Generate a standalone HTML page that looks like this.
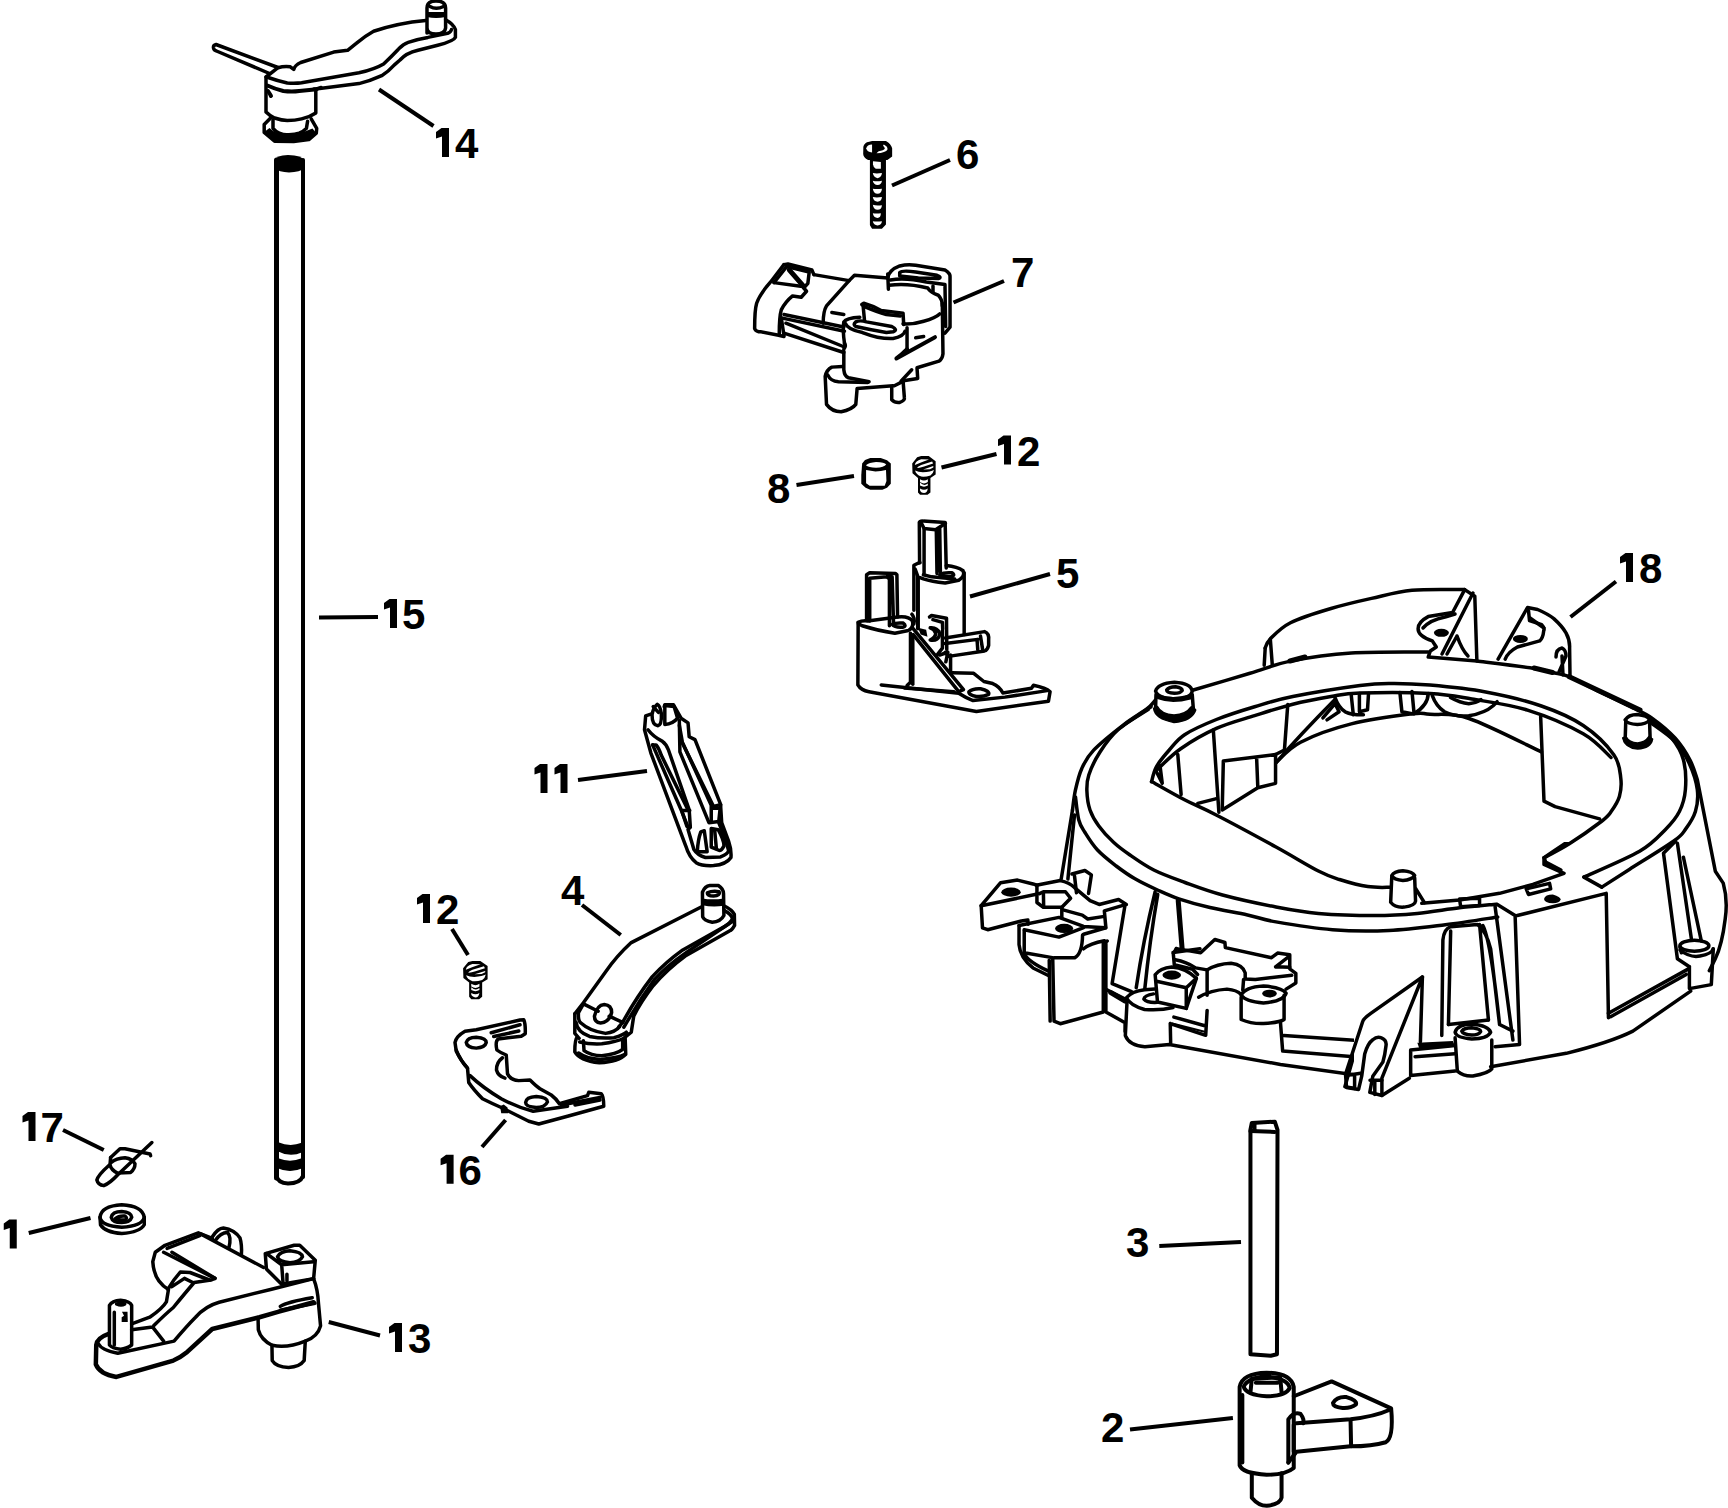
<!DOCTYPE html>
<html><head><meta charset="utf-8"><title>Parts diagram</title>
<style>html,body{margin:0;padding:0;background:#fff;overflow:hidden}svg{display:block}</style></head>
<body>
<svg width="1728" height="1508" viewBox="0 0 1728 1508">
<rect width="1728" height="1508" fill="#fff"/>
<g fill="none" stroke="#000" stroke-width="3.5" stroke-linejoin="round" stroke-linecap="round">
<g font-family="Liberation Sans" font-weight="bold" font-size="42" fill="#000" stroke="none">
<path transform="translate(19.00,-766.00)" d="M417 898 L422.5 894 L430 894 L430 923 L423 923 L423 902.5 L417 904.5 Z"/>
<text x="455.00" y="158.00">4</text>
<path transform="translate(-33.00,-295.00)" d="M417 898 L422.5 894 L430 894 L430 923 L423 923 L423 902.5 L417 904.5 Z"/>
<text x="402.00" y="629.00">5</text>
<text x="956.00" y="168.50">6</text>
<text x="1011.00" y="286.50">7</text>
<path transform="translate(581.00,-458.50)" d="M417 898 L422.5 894 L430 894 L430 923 L423 923 L423 902.5 L417 904.5 Z"/>
<text x="1017.00" y="465.50">2</text>
<text x="767.00" y="503.00">8</text>
<text x="1056.00" y="587.50">5</text>
<path transform="translate(1203.00,-341.00)" d="M417 898 L422.5 894 L430 894 L430 923 L423 923 L423 902.5 L417 904.5 Z"/>
<text x="1639.00" y="583.00">8</text>
<path transform="translate(117.50,-130.00)" d="M417 898 L422.5 894 L430 894 L430 923 L423 923 L423 902.5 L417 904.5 Z"/>
<path transform="translate(137.50,-130.00)" d="M417 898 L422.5 894 L430 894 L430 923 L423 923 L423 902.5 L417 904.5 Z"/>
<text x="561.00" y="905.00">4</text>
<path transform="translate(0.00,0.00)" d="M417 898 L422.5 894 L430 894 L430 923 L423 923 L423 902.5 L417 904.5 Z"/>
<text x="436.00" y="924.00">2</text>
<path transform="translate(23.60,260.75)" d="M417 898 L422.5 894 L430 894 L430 923 L423 923 L423 902.5 L417 904.5 Z"/>
<text x="458.60" y="1184.75">6</text>
<path transform="translate(-394.50,218.00)" d="M417 898 L422.5 894 L430 894 L430 923 L423 923 L423 902.5 L417 904.5 Z"/>
<text x="40.50" y="1142.00">7</text>
<path transform="translate(-413.25,325.50)" d="M417 898 L422.5 894 L430 894 L430 923 L423 923 L423 902.5 L417 904.5 Z"/>
<path transform="translate(-28.00,429.00)" d="M417 898 L422.5 894 L430 894 L430 923 L423 923 L423 902.5 L417 904.5 Z"/>
<text x="408.00" y="1353.00">3</text>
<text x="1126.00" y="1257.00">3</text>
<text x="1101.00" y="1442.00">2</text>
</g>
<g stroke-width="4" stroke-linecap="butt">
<path d="M379 89.5 L433.5 126"/>
<path d="M319 617.5 L378 617"/>
<path d="M892 185.5 L950 160"/>
<path d="M953.5 302.5 L1004 281"/>
<path d="M941.5 467.5 L996.5 454"/>
<path d="M796.5 485 L854 476"/>
<path d="M970 596.5 L1050 574"/>
<path d="M1570.5 617 L1616 581.5"/>
<path d="M578 780 L647 771"/>
<path d="M582 905 L620.75 935"/>
<path d="M452 929 L468 955"/>
<path d="M482 1147 L505.6 1120"/>
<path d="M63 1130 L103.75 1150"/>
<path d="M28.75 1233 L90.5 1218"/>
<path d="M328.75 1322 L380 1335.5"/>
<path d="M1159.3 1246 L1241 1242"/>
<path d="M1130 1429.5 L1232.9 1418"/>
</g>
<!-- rod 15 -->
<path d="M276.5 160 V1178" stroke-width="5"/>
<path d="M303 160 V1177" stroke-width="4"/>
<path d="M274 161 Q276 155 288 155 Q302 155 305 161 V168 Q300 172 289 172.5 Q279 172 274 168 Z" fill="#000" stroke="none"/>
<path d="M278 1143 Q290 1148 302 1143.5 V1151.5 Q290 1157 278 1150.5 Z" fill="#000" stroke-width="1.5"/>
<path d="M278 1159 Q290 1164 302 1159 V1167.5 Q290 1173 278 1167.5 Z" fill="#000" stroke-width="1.5"/>
<path d="M276.5 1176 Q278 1183 288 1183.5 Q300 1183.5 303 1176" stroke-width="4"/>
<!-- lever 14 -->
<path d="M278 67.5 L216 44.5 Q213 45 213.5 48 Q214 50.5 216.5 51 L269.5 73.5"/>
<path d="M266 77 L278 67.7 Q284 66 290.3 66.8 L293.75 69.4 Q295 65 300.7 62.5 L333.7 52.1 L347.6 50.3 L356.25 43.4 Q365 36 373.6 31.25 Q398 23 425.7 20.5"/>
<path d="M445.6 19.7 Q453.5 24 455.4 29.5 V37.4 Q454 41 437.7 45.3 L418 50.2 Q406 53 400 60 L394.4 64.9 Q388 72 381.7 75.7 Q370 81 359 83.6 L319.7 88.5 L314 89"/>
<path d="M268.2 77.5 Q278 81 287.3 83 Q296 83.5 301.6 82.7 L359 72.8 Q375 69 383.6 63.9 Q392 56 398.4 49.2 Q403 44 408.2 42.3 Q418 39 427.9 37.4 L447.6 33.4 Q451 32 451.5 29.5"/>
<path d="M267.4 85.5 Q275 89 283.3 91 Q292 92 299.2 91 L314.4 89.4" stroke-width="4"/>
<!-- pin on 14 -->
<path d="M427 33 V8 Q427 1 436 1 Q445.6 1 445.6 8 V28 Q445 34 436 34 Q427 34 427 28"/>
<path d="M430 6.5 Q436 10 443.6 6.5"/>
<path d="M427 12 H445.6 V17 Q436 19 427 17 Z" fill="#000" stroke="none"/>
<!-- head cylinder -->
<path d="M266 77 V112 Q270 116 274.6 118 Q282 120.5 287.3 120.5 Q295 120.5 301.6 118.9 Q310 117 315.8 113 V90"/>
<path d="M315.8 90 Q318 88 321 87.5"/>
<path d="M268 91 Q270 94 271 96" stroke-width="4"/>
<!-- washer -->
<path d="M270.6 118 L264.2 124.5 V132.4 L274.6 141.2 L293.7 141.6 L308.8 139.6 L316.3 133.2 L316.7 128.4 L311.2 118.9"/>
<path d="M273 119.7 V128.4 Q276 132 279.3 133.2 Q284 135 287.3 134.8 Q295 135 299.2 133.2 Q304 131 306.4 128.4 L307.6 121.3"/>
<path d="M268 134 Q278 139 290 139 Q305 139 313 133" stroke-width="4"/>
<path d="M264.2 132 L274.6 141.2 L293.7 141.6 L308.8 139.6 L316.3 133.2 L312.5 128.5 Q305 131.5 299 133.5 Q290 135.8 282 134.8 Q274 132.5 269.5 128 Z" fill="#000" stroke="none"/>
<g transform="translate(740,250) scale(0.13310)">
<g vector-effect="non-scaling-stroke">
<path vector-effect="non-scaling-stroke" d="M330 110 L230 240 Q150 330 125 400 Q110 450 110 590 Q120 615 160 615 L290 640 L330 650"/>
<path vector-effect="non-scaling-stroke" d="M330 110 L360 105 L540 150 L555 185"/>
<path vector-effect="non-scaling-stroke" d="M255 245 L350 125 L520 165 L510 250 L480 285"/>
<path vector-effect="non-scaling-stroke" d="M370 150 L475 270" stroke-width="5"/>
<path vector-effect="non-scaling-stroke" d="M255 245 L470 275 L500 310 L460 355 L395 345 Q340 390 310 450 Q295 500 295 630"/>
<path vector-effect="non-scaling-stroke" d="M555 185 L820 230 L860 190 L1110 210"/>
<path vector-effect="non-scaling-stroke" d="M820 230 L650 420 Q625 460 625 550"/>
<path vector-effect="non-scaling-stroke" d="M330 485 L780 578"/>
<path vector-effect="non-scaling-stroke" d="M310 510 L330 640"/>
<path vector-effect="non-scaling-stroke" d="M310 510 L785 610"/>
<path vector-effect="non-scaling-stroke" d="M345 550 L775 725"/>
<path vector-effect="non-scaling-stroke" d="M330 625 L780 770"/>
<path vector-effect="non-scaling-stroke" d="M785 700 Q800 720 780 745"/>
<path vector-effect="non-scaling-stroke" d="M780 760 L780 900 Q785 950 815 960 L970 990"/>
<path vector-effect="non-scaling-stroke" d="M770 875 L690 880 Q650 900 640 950 L650 1160 Q690 1215 760 1215 Q840 1200 870 1160 L880 1040 L1150 1020"/>
<path vector-effect="non-scaling-stroke" d="M660 940 Q680 985 740 990 L960 995"/>
<path vector-effect="non-scaling-stroke" d="M1140 1030 L1140 1125 Q1165 1150 1200 1145 Q1240 1130 1235 1110 L1225 980"/>
<path vector-effect="non-scaling-stroke" d="M1520 400 L1525 780 Q1520 820 1495 835 L1330 885 L1335 965 L1240 980 L1160 1020"/>
<path vector-effect="non-scaling-stroke" d="M1290 900 L1210 985"/>
<path vector-effect="non-scaling-stroke" d="M1110 210 Q1120 150 1200 120 Q1260 105 1320 115 L1540 150 Q1580 175 1578 200 L1578 580 L1540 625"/>
<path vector-effect="non-scaling-stroke" d="M1110 180 L1115 295"/>
<path vector-effect="non-scaling-stroke" d="M1120 265 Q1250 245 1410 285 Q1430 320 1490 340 Q1520 370 1520 420"/>
<path vector-effect="non-scaling-stroke" d="M1200 170 Q1215 150 1320 165 L1480 190 Q1520 205 1490 215 L1340 210 L1200 195 Z"/>
<path vector-effect="non-scaling-stroke" d="M1130 225 Q1240 205 1400 240 L1540 260 L1545 575"/>
<path vector-effect="non-scaling-stroke" d="M1450 270 L1450 320"/>
<path vector-effect="non-scaling-stroke" d="M915 410 L930 400 Q1000 420 1060 455 L1225 475 L1230 560"/>
<path vector-effect="non-scaling-stroke" d="M925 420 L935 525"/>
<path vector-effect="non-scaling-stroke" d="M935 425 Q1030 465 1100 485 L1205 495"/>
<path vector-effect="non-scaling-stroke" d="M900 505 Q800 510 780 540 Q770 600 785 700"/>
<path vector-effect="non-scaling-stroke" d="M790 550 Q810 600 920 620 Q1050 670 1150 665 Q1230 650 1240 610"/>
<path vector-effect="non-scaling-stroke" d="M870 540 Q900 525 950 540 L1140 575 Q1190 600 1150 615 L1100 620 Q980 600 870 575 Q845 560 870 540 Z"/>
<path vector-effect="non-scaling-stroke" d="M1225 555 Q1300 560 1380 535 Q1470 510 1500 480"/>
<path vector-effect="non-scaling-stroke" d="M1255 585 L1255 760"/>
<path vector-effect="non-scaling-stroke" d="M1255 745 Q1210 790 1175 815 L1465 655" stroke-width="4"/>
<path vector-effect="non-scaling-stroke" d="M690 470 L780 485 M1320 660 L1380 650"/>
</g>
</g>
<g transform="translate(840,130) scale(0.07294)" stroke="none">
<path d="M320 230 Q330 170 400 160 L440 150 L630 150 Q700 190 715 250 L715 365 L650 410 L630 410 L630 1295 L575 1355 L440 1355 L410 1305 L410 410 L385 410 Q320 380 318 330 Z" fill="#000"/>
<path d="M360 250 Q370 205 440 200 L440 310 Q370 300 360 250 Z" fill="#fff"/>
<path d="M600 200 Q660 230 650 270 Q630 310 500 320 L530 290 Q600 285 615 255 Q610 230 590 215 Z" fill="#fff"/>
<g fill="#fff">
<path d="M452 430 L560 440 L560 530 L490 530 Q455 510 452 470 Z"/>
<path d="M450 590 Q500 600 575 590 Q570 650 515 660 Q460 650 450 590 Z"/>
<path d="M450 695 Q500 710 575 695 Q570 750 515 755 Q460 750 450 695 Z"/>
<path d="M450 805 Q500 815 575 805 Q570 870 515 875 Q460 870 450 805 Z"/>
<path d="M450 920 Q500 930 575 920 Q570 980 515 985 Q460 980 450 920 Z"/>
<path d="M450 1025 Q500 1040 575 1030 Q570 1090 515 1095 Q460 1090 450 1025 Z"/>
<path d="M450 1140 Q500 1150 560 1140 Q560 1200 515 1205 Q460 1200 450 1140 Z"/>
<path d="M450 1250 Q500 1260 575 1250 Q570 1300 515 1310 Q460 1300 450 1250 Z"/>
</g>
</g>
<g transform="translate(850,445) scale(0.05787)" stroke="none">
<path d="M210 320 L260 260 L350 225 L530 225 L640 265 L705 320 L705 670 L640 740 L560 775 L350 775 L270 740 L195 670 L195 520 Z" fill="#000"/>
<path d="M275 350 Q330 305 450 295 Q600 305 625 335 Q590 380 450 395 Q320 385 275 350 Z" fill="#fff"/>
<path d="M278 430 Q360 445 440 460 Q540 450 622 430 L630 620 L600 705 L340 705 L278 660 Z" fill="#fff"/>
<path d="M1075 320 L1160 210 L1230 190 L1360 190 L1480 280 L1480 510 L1390 570 L1390 820 L1340 860 L1210 860 L1175 820 L1175 570 L1080 490 Z" fill="#000"/>
<g fill="#fff">
<path d="M1120 345 Q1130 270 1230 245 L1365 250 Q1250 290 1120 345 Z"/>
<path d="M1160 395 Q1170 370 1230 345 L1420 285 L1435 320 L1280 370 Q1200 400 1160 395 Z"/>
<path d="M1265 425 L1440 365 L1440 390 L1380 420 Z"/>
<path d="M1125 440 Q1180 470 1260 470 Q1400 460 1450 430 Q1440 490 1390 525 Q1300 555 1230 545 Q1140 510 1125 440 Z"/>
<path d="M1210 590 Q1280 640 1345 590 L1345 640 Q1280 690 1210 640 Z"/>
<path d="M1210 650 Q1280 720 1345 665 L1345 700 Q1280 740 1210 700 Z"/>
<path d="M1210 750 Q1280 800 1345 750 Q1330 830 1280 830 Q1220 820 1210 780 Z"/>
</g>
</g>
<g transform="translate(850,515) scale(0.13592)">
<g>
<path vector-effect="non-scaling-stroke" d="M512 350 L510 55 Q515 42 540 45 L700 55 L708 390"/>
<path vector-effect="non-scaling-stroke" d="M520 50 L545 100 L630 108 L658 90 L702 62"/>
<path vector-effect="non-scaling-stroke" d="M545 105 L545 430 M635 110 L640 430 M660 92 L665 420"/>
<path vector-effect="non-scaling-stroke" d="M470 700 L470 370 L500 355 L515 352"/>
<path vector-effect="non-scaling-stroke" d="M708 372 Q790 380 832 410 Q850 450 800 480 L700 500 Q600 490 540 470 L500 455 L480 400"/>
<path vector-effect="non-scaling-stroke" d="M660 440 Q690 420 750 425 Q780 445 740 455 Q680 455 660 440 Z"/>
<path vector-effect="non-scaling-stroke" d="M540 440 L600 455 L770 470"/>
<path vector-effect="non-scaling-stroke" d="M840 425 L840 880"/>
<path vector-effect="non-scaling-stroke" d="M500 460 L500 835" stroke-width="4"/>
<path vector-effect="non-scaling-stroke" d="M350 750 L345 440 L335 430 L145 425 L122 440 L122 775"/>
<path vector-effect="non-scaling-stroke" d="M145 465 L145 780 M145 465 L270 455 L290 470 L290 815 M275 450 L310 455 L320 790"/>
<path vector-effect="non-scaling-stroke" d="M60 790 Q90 775 130 780 L350 750 Q430 740 460 780 Q470 830 430 850 L330 870 Q200 850 90 815 L62 800"/>
<path vector-effect="non-scaling-stroke" d="M310 805 Q340 790 390 795 Q420 815 390 825 Q330 830 310 805 Z"/>
<path vector-effect="non-scaling-stroke" d="M455 730 Q480 760 470 800"/>
<path vector-effect="non-scaling-stroke" d="M60 790 L58 1250 Q80 1290 140 1300 L930 1445 L1460 1370 L1472 1300 Q1440 1270 1350 1252 L1335 1275 L1125 1310 Q1100 1260 1050 1240 L985 1225 L910 1165 L750 1160"/>
<path vector-effect="non-scaling-stroke" d="M230 1250 L800 1312 Q850 1345 905 1365 L1140 1340 L1450 1292"/>
<path vector-effect="non-scaling-stroke" d="M875 1300 Q900 1275 960 1278 Q1030 1295 1020 1320 Q980 1340 930 1335 Q870 1325 875 1300 Z"/>
<path vector-effect="non-scaling-stroke" d="M445 870 L445 1230 L420 1255"/>
<path vector-effect="non-scaling-stroke" d="M462 900 L462 1245"/>
<path vector-effect="non-scaling-stroke" d="M460 830 L835 1285 L800 1300 L465 880"/>
<path vector-effect="non-scaling-stroke" d="M400 1272 L765 1300"/>
<path vector-effect="non-scaling-stroke" d="M740 1030 L740 1160"/>
<path vector-effect="non-scaling-stroke" d="M700 905 L990 858 Q1025 870 1020 920 L1020 960 Q1010 995 990 1000 L725 1040 L700 1010"/>
<path vector-effect="non-scaling-stroke" d="M700 945 L940 915 M935 920 L940 990 M960 890 L975 985"/>
<path vector-effect="non-scaling-stroke" d="M585 750 L600 740 L710 760 L712 990"/>
<path vector-effect="non-scaling-stroke" d="M610 770 L680 790 L682 840"/>
<path vector-effect="non-scaling-stroke" d="M590 830 Q640 825 660 870 Q655 930 590 920 Q630 900 630 870 Q620 840 590 830 Z"/>
<path vector-effect="non-scaling-stroke" d="M680 850 L680 980 L640 1030"/>
<path vector-effect="non-scaling-stroke" d="M660 1030 L720 1010 L705 1080"/>
<path d="M500 830 L560 845 L570 895 L520 880 Z" fill="#000" stroke="none"/>
</g>
</g>
<g transform="translate(630,695) scale(0.11605)">
<path vector-effect="non-scaling-stroke" d="M180 165 L135 180 L125 300 L180 500 L480 1300 Q510 1400 570 1445 Q620 1475 720 1470 Q830 1460 870 1400 Q875 1330 850 1260 L790 1100 L780 940 L560 385 L510 360 L500 240 L440 200 L375 85 L300 85 L295 100"/>
<path vector-effect="non-scaling-stroke" d="M155 300 Q200 360 280 400 Q310 420 330 470 L510 990 L520 1140 L500 1160 L550 1330 Q580 1380 650 1400 L780 1395 Q845 1370 850 1340 L820 1240 L765 1100"/>
<path vector-effect="non-scaling-stroke" d="M195 430 L225 430 Q250 460 270 520 L500 990"/>
<path vector-effect="non-scaling-stroke" d="M195 430 L445 1000 L500 1140"/>
<path vector-effect="non-scaling-stroke" d="M445 995 L515 995 M450 1010 L490 1130"/>
<path vector-effect="non-scaling-stroke" d="M425 220 L430 490 L680 1100 L765 1090 L780 945"/>
<path vector-effect="non-scaling-stroke" d="M445 400 L720 960 L780 945"/>
<path vector-effect="non-scaling-stroke" d="M425 260 L450 400"/>
<path vector-effect="non-scaling-stroke" d="M455 415 L700 950 L700 1090 M710 975 L760 975"/>
<path vector-effect="non-scaling-stroke" d="M580 1350 Q585 1250 610 1180 L640 1170 L665 1350 Z"/>
<path vector-effect="non-scaling-stroke" d="M700 1150 L760 1160 Q810 1250 810 1300 Q790 1340 770 1340 L700 1310 Z M730 1170 L745 1330"/>
<path vector-effect="non-scaling-stroke" d="M190 170 Q200 110 235 80 Q260 90 270 160 Q275 260 240 265 Q190 260 190 170 Z"/>
<path vector-effect="non-scaling-stroke" d="M300 90 L300 255 Q370 250 410 200 L380 100 Z"/>
<path vector-effect="non-scaling-stroke" d="M200 100 L245 150"/>
</g>
<g transform="translate(565,880) scale(0.12270)">
<path vector-effect="non-scaling-stroke" d="M80 1090 L150 1000 L330 750 Q420 620 540 510 L1110 220"/>
<path vector-effect="non-scaling-stroke" d="M1122 300 L1120 100 Q1140 50 1180 45 L1250 45 Q1290 70 1292 110 L1295 290 Q1270 340 1200 345 Q1130 330 1122 300"/>
<path vector-effect="non-scaling-stroke" d="M1160 105 Q1200 85 1255 95 Q1270 125 1210 130 Q1160 130 1160 105 Z"/>
<path d="M1120 150 Q1200 165 1295 150 L1295 210 Q1200 225 1120 205 Z" fill="#000" stroke="none"/>
<path vector-effect="non-scaling-stroke" d="M1295 210 Q1360 240 1380 280 L1382 370 Q1360 410 1340 415 L980 620 Q830 730 720 860 Q620 990 560 1110 L540 1240 L490 1280"/>
<path vector-effect="non-scaling-stroke" d="M1300 250 Q1360 280 1365 320 Q1340 360 1300 380 L960 570 Q820 670 710 790 Q580 960 470 1160 L440 1195"/>
<path vector-effect="non-scaling-stroke" d="M1360 340 L990 590 Q830 700 730 810 Q600 990 480 1200"/>
<path vector-effect="non-scaling-stroke" d="M80 1090 L80 1250 L115 1290"/>
<path vector-effect="non-scaling-stroke" d="M150 1010 L110 1080 Q105 1150 130 1165 Q200 1230 330 1250 Q410 1240 445 1195"/>
<path vector-effect="non-scaling-stroke" d="M150 1010 L270 1070 M360 1110 L470 1160"/>
<path vector-effect="non-scaling-stroke" d="M240 1110 Q260 1020 320 1015 Q380 1020 380 1080 Q360 1160 290 1165 Q240 1160 240 1110 Z"/>
<path vector-effect="non-scaling-stroke" d="M90 1160 Q100 1240 200 1275 Q300 1295 400 1285 Q480 1260 500 1240"/>
<path vector-effect="non-scaling-stroke" d="M100 1280 Q80 1300 80 1400 Q120 1470 280 1490 Q440 1480 495 1420 L490 1280"/>
<path vector-effect="non-scaling-stroke" d="M150 1310 L155 1390 Q210 1430 300 1432 Q420 1420 470 1380 L470 1300"/>
<path vector-effect="non-scaling-stroke" d="M110 1410 Q180 1460 290 1462 Q430 1450 490 1420"/>
<path vector-effect="non-scaling-stroke" d="M120 1320 Q200 1340 300 1335 Q420 1320 480 1290"/>
</g>
<g transform="translate(463.1,960.9) scale(0.0605,0.0571) translate(-1075,-190)" stroke="none">
<path d="M1075 320 L1160 210 L1230 190 L1360 190 L1480 280 L1480 510 L1390 570 L1390 820 L1340 860 L1210 860 L1175 820 L1175 570 L1080 490 Z" fill="#000"/>
<g fill="#fff">
<path d="M1120 345 Q1130 270 1230 245 L1365 250 Q1250 290 1120 345 Z"/>
<path d="M1160 395 Q1170 370 1230 345 L1420 285 L1435 320 L1280 370 Q1200 400 1160 395 Z"/>
<path d="M1265 425 L1440 365 L1440 390 L1380 420 Z"/>
<path d="M1125 440 Q1180 470 1260 470 Q1400 460 1450 430 Q1440 490 1390 525 Q1300 555 1230 545 Q1140 510 1125 440 Z"/>
<path d="M1210 590 Q1280 640 1345 590 L1345 640 Q1280 690 1210 640 Z"/>
<path d="M1210 650 Q1280 720 1345 665 L1345 700 Q1280 740 1210 700 Z"/>
<path d="M1210 750 Q1280 800 1345 750 Q1330 830 1280 830 Q1220 820 1210 780 Z"/>
</g>
</g>
<g transform="translate(420,1000) scale(0.125)">
<path vector-effect="non-scaling-stroke" d="M280 340 Q290 290 360 250 L450 238 L800 160 L830 158 Q845 190 842 270 L810 290 L625 312 Q600 330 615 400 Q640 420 690 440 L700 590 Q720 640 790 645 L880 640 Q930 690 960 710 L1050 760 Q1090 790 1115 830 L1340 765 L1350 738 L1450 750 Q1470 770 1470 850 L1180 930 L950 992 L870 970 L650 860 Q580 830 500 790 Q430 720 390 660 L380 545 Q330 490 290 410 Z" stroke-width="3.5"/>
<path vector-effect="non-scaling-stroke" d="M290 400 Q320 480 380 545"/>
<path vector-effect="non-scaling-stroke" d="M570 262 L800 198 M590 292 L790 248"/>
<path vector-effect="non-scaling-stroke" d="M660 462 Q610 500 612 560 Q625 610 680 625"/>
<path vector-effect="non-scaling-stroke" d="M400 605 Q500 700 650 790 Q780 860 905 890 L1180 850"/>
<path vector-effect="non-scaling-stroke" d="M1240 840 L1440 800 M1130 840 L1440 780"/>
<path vector-effect="non-scaling-stroke" d="M370 340 Q380 300 450 298 Q530 305 530 340 Q520 380 450 385 Q375 380 370 340 Z"/>
<path vector-effect="non-scaling-stroke" d="M845 820 Q850 775 930 772 Q1020 780 1020 815 Q1000 860 930 860 Q845 855 845 820 Z"/>
<path d="M640 850 L670 835 L700 860 L705 905 L650 905 Z" fill="#000" stroke="none"/>
</g>
<g transform="translate(0,1000) scale(0.125)">
<path vector-effect="non-scaling-stroke" d="M1215 1140 L940 1400 Q880 1465 830 1485 Q785 1480 775 1440 Q785 1400 875 1320"/>
<path vector-effect="non-scaling-stroke" d="M885 1260 L960 1190 L1000 1190 L1200 1232 L1205 1245"/>
<path vector-effect="non-scaling-stroke" d="M890 1300 Q930 1265 1000 1262 Q1060 1270 1080 1310 Q1080 1350 1045 1380 L940 1385 Q890 1360 880 1320 L885 1260"/>
</g>
<g transform="translate(0,1131) scale(0.25)">
<path vector-effect="non-scaling-stroke" d="M400 345 Q405 300 487 295 Q570 300 577 345 Q570 380 487 385 Q405 380 400 345 Z"/>
<path vector-effect="non-scaling-stroke" d="M400 345 L402 375 Q420 405 487 410 Q560 405 577 375 L577 345"/>
<path vector-effect="non-scaling-stroke" d="M445 345 Q450 322 487 322 Q525 325 527 345 Q520 366 487 366 Q450 366 445 345 Z"/>
<path vector-effect="non-scaling-stroke" d="M462 350 Q475 338 500 340 Q512 350 500 355 Q480 358 462 350 Z"/>
</g>
<g transform="translate(90,1220) scale(0.13889)">
<path vector-effect="non-scaling-stroke" d="M130 822 Q50 850 45 900 L42 1040 Q70 1110 190 1130 L600 1012 Q650 990 700 950 L880 785 L1220 700 L1360 660 L1610 592" stroke-width="4.5"/>
<path vector-effect="non-scaling-stroke" d="M60 890 Q80 935 200 960 L605 872 Q700 760 760 700 Q830 620 930 592 L1300 500 L1610 422"/>
<path vector-effect="non-scaling-stroke" d="M140 900 L140 615 Q160 580 220 578 Q290 585 300 615 L300 900 Q260 930 220 930 Q160 925 140 900"/>
<path vector-effect="non-scaling-stroke" d="M175 665 L175 900 M192 605 Q220 595 250 605 Q225 620 192 605"/>
<path d="M230 660 L270 660 L272 735 L228 735 L228 700 L245 690 Z" fill="#000" stroke="none"/>
<path vector-effect="non-scaling-stroke" d="M300 748 L430 700 Q520 640 550 590 L565 500 Q460 440 452 300 L470 232 L540 182 L780 92 L880 132"/>
<path vector-effect="non-scaling-stroke" d="M555 205 L790 112"/>
<path vector-effect="non-scaling-stroke" d="M300 790 L450 770 L530 872 M460 760 Q540 680 600 630 Q690 520 750 450 L870 432 L900 420 L590 232"/>
<path vector-effect="non-scaling-stroke" d="M530 232 L900 420"/>
<path vector-effect="non-scaling-stroke" d="M560 500 Q600 430 650 375 L720 378 L860 432 M590 480 L680 420 L740 450"/>
<path vector-effect="non-scaling-stroke" d="M800 102 L1250 342"/>
<path vector-effect="non-scaling-stroke" d="M880 122 Q920 60 960 58 Q1040 70 1080 130 Q1095 180 1090 250 M900 150 Q940 90 990 90 Q1020 120 1000 200"/>
<path vector-effect="non-scaling-stroke" d="M1262 242 L1470 182 L1510 182 L1622 290 L1610 422 L1380 462 L1270 352 Z"/>
<path vector-effect="non-scaling-stroke" d="M1350 265 Q1370 225 1440 222 Q1525 230 1530 265 Q1510 305 1440 308 Q1355 300 1350 265 Z"/>
<path vector-effect="non-scaling-stroke" d="M1272 242 L1380 322 L1610 300 M1380 322 L1390 452 M1418 390 L1418 440"/>
<path vector-effect="non-scaling-stroke" d="M1610 422 Q1640 500 1645 600 L1660 762 Q1640 840 1550 872 L1542 1012 Q1510 1058 1430 1062 Q1340 1058 1312 1012 L1310 902 Q1230 860 1212 790 L1210 702"/>
<path vector-effect="non-scaling-stroke" d="M1312 902 Q1420 925 1550 872"/>
<path vector-effect="non-scaling-stroke" d="M1370 622 Q1420 590 1600 560 M1370 650 L1620 600"/>
</g>
<g transform="translate(1080,1100) scale(0.27056)" stroke-width="4">
<path vector-effect="non-scaling-stroke" d="M630 110 L635 85 L720 80 L730 110 L728 940 L705 945 L630 940 Z"/>
<path vector-effect="non-scaling-stroke" d="M630 115 L720 118 M645 90 L645 115"/>
<path vector-effect="non-scaling-stroke" d="M590 1060 Q600 1010 690 1008 Q780 1010 790 1060 L790 1360 Q760 1385 690 1385 Q600 1380 590 1350 Z"/>
<path vector-effect="non-scaling-stroke" d="M605 1060 Q620 1025 690 1022 Q770 1030 775 1065 Q760 1095 690 1095 Q615 1090 605 1060 Z"/>
<path vector-effect="non-scaling-stroke" d="M630 1080 L635 1030 L740 1025 L745 1080 M650 1045 L730 1045"/>
<path vector-effect="non-scaling-stroke" d="M600 1090 L600 1340"/>
<path vector-effect="non-scaling-stroke" d="M635 1380 L635 1470 Q660 1500 690 1500 Q740 1495 745 1470 L745 1380"/>
<path vector-effect="non-scaling-stroke" d="M790 1095 L930 1040 L1150 1140 Q1160 1250 1130 1265 Q1080 1280 1000 1280 L800 1300 L770 1340"/>
<path vector-effect="non-scaling-stroke" d="M800 1195 L1000 1180 Q1090 1170 1145 1145"/>
<path vector-effect="non-scaling-stroke" d="M1000 1185 L1002 1280"/>
<path vector-effect="non-scaling-stroke" d="M770 1180 Q790 1150 815 1160 Q830 1180 825 1195 M770 1180 L770 1340 M790 1200 L790 1300"/>
<path vector-effect="non-scaling-stroke" d="M935 1120 Q950 1095 985 1098 Q1025 1110 1020 1125 Q1000 1140 970 1138 Q935 1135 935 1120 Z"/>
</g>
<defs>
<clipPath id="cA"><rect x="900" y="500" width="454" height="342"/></clipPath>
<clipPath id="cB"><rect x="1354" y="500" width="400" height="342"/></clipPath>
<clipPath id="cC"><rect x="900" y="842" width="454" height="300"/></clipPath>
<clipPath id="cD"><rect x="1354" y="842" width="400" height="300"/></clipPath>
</defs>
<g clip-path="url(#cA)">
<g transform="translate(980,570) scale(0.22222)">
<path vector-effect="non-scaling-stroke" d="M790 900 L820 960 M810 880 L820 960"/>
<path vector-effect="non-scaling-stroke" d="M890 830 L905 1010 M1050 720 L1075 1090 M1385 605 L1370 810 L1330 830"/>
<path vector-effect="non-scaling-stroke" d="M1095 860 L1090 1080 L1250 980 L1330 960 L1330 830 L1095 860 M1245 850 L1250 975"/>
<path vector-effect="non-scaling-stroke" d="M1060 1030 L980 1050"/>
<path vector-effect="non-scaling-stroke" d="M790 545 Q800 510 875 505 Q950 510 955 545 Q950 580 875 580 Q800 578 790 545 Z"/>
<path vector-effect="non-scaling-stroke" d="M840 540 Q850 525 880 525 Q910 530 910 542 Q900 555 875 555 Q840 553 840 540 Z"/>
<path vector-effect="non-scaling-stroke" d="M792 560 L790 625 M955 560 L960 625"/>

<path vector-effect="non-scaling-stroke" d="M640 705 L760 630" stroke-width="2"/>
</g>
</g>
<g clip-path="url(#cB)">
<g transform="translate(1344,570) scale(0.22222)">
<path vector-effect="non-scaling-stroke" d="M885 660 L900 1040 L950 1065 L1150 1120"/>
<path vector-effect="non-scaling-stroke" d="M1265 675 Q1280 650 1320 650 Q1370 655 1375 675 Q1360 695 1320 695 Q1275 693 1265 675 Z"/>
<path vector-effect="non-scaling-stroke" d="M1268 680 L1265 770 M1375 680 L1378 770"/>

</g>
</g>
<g clip-path="url(#cC)">
<g transform="translate(976,780) scale(0.22222)">
<path vector-effect="non-scaling-stroke" d="M580 940 L680 990 L672 1150 Q690 1195 760 1200 L870 1190 L1370 1280 L1760 1335"/>
<path vector-effect="non-scaling-stroke" d="M1370 1090 L1380 1220 L1760 1250 M1385 1150 L1760 1175" />
<path vector-effect="non-scaling-stroke" d="M1700 1240 L1660 1380 L1728 1392"/>
</g>
</g>
<g clip-path="url(#cD)">
<g transform="translate(1344,780) scale(0.22222)">
<path vector-effect="non-scaling-stroke" d="M900 0 L905 100 L950 120 L1160 180"/>
<path vector-effect="non-scaling-stroke" d="M1240 0 Q1240 100 1160 180 Q1000 280 900 350 L900 380 L990 420 L850 470 L700 510 L520 540 L350 555"/>
<path vector-effect="non-scaling-stroke" d="M1550 850 L1190 1050 M1540 875 L1200 1065"/>
<path vector-effect="non-scaling-stroke" d="M780 610 L1180 510 L1190 1070"/>
<path vector-effect="non-scaling-stroke" d="M660 1290 L1000 1230 Q1200 1180 1300 1130 L1560 950"/>
<path vector-effect="non-scaling-stroke" d="M215 430 Q225 410 265 408 Q310 412 318 430 Q305 450 265 452 Q225 450 215 430 Z"/>
<path vector-effect="non-scaling-stroke" d="M215 435 L210 550 Q230 575 270 572 Q320 565 322 545 L318 440 M320 485 L362 552"/>
<path vector-effect="non-scaling-stroke" d="M520 535 L610 532 L610 565 L525 570 Z M820 490 L925 465 L930 490 L830 515 Z"/>
<path d="M900 535 Q905 515 940 515 Q975 525 975 538 Q970 555 940 555 Q902 553 900 535 Z" fill="#000" stroke="none"/>
<path vector-effect="non-scaling-stroke" d="M690 560 L770 610 L790 1190 L680 1200 M680 570 L760 1170"/>
<path vector-effect="non-scaling-stroke" d="M440 1150 L445 720 Q450 670 480 660 L600 650 Q640 680 660 760 L700 1100 L760 1130 M470 1100 L480 680 M610 650 L650 1080 M625 655 Q660 720 700 1100"/>
<path vector-effect="non-scaling-stroke" d="M470 1100 L650 1080"/>
<path vector-effect="non-scaling-stroke" d="M500 1135 Q510 1100 575 1098 Q650 1105 660 1135 Q645 1165 575 1165 Q505 1160 500 1135 Z"/>
<path vector-effect="non-scaling-stroke" d="M530 1130 Q540 1115 575 1115 Q615 1120 615 1132 Q605 1148 575 1148 Q535 1145 530 1130 Z"/>
<path vector-effect="non-scaling-stroke" d="M500 1160 L510 1310 Q540 1335 580 1332 Q650 1320 665 1300 L665 1170"/>
<path vector-effect="non-scaling-stroke" d="M300 1215 L500 1195 M320 1245 L500 1232 M300 1330 L500 1310 M300 1215 L300 1330"/>
<path d="M330 1182 L490 1175 L500 1200 L340 1212 Z" fill="#000" stroke="none"/>
</g>
</g>
<g>
<path d="M1151.0 706.7 C1145.5 710.6 1126.3 722.5 1117.8 730.0 C1109.3 737.5 1104.8 744.5 1100.0 752.0 C1095.2 759.5 1090.9 768.5 1088.8 775.0 C1086.6 781.5 1086.7 785.2 1086.9 791.0 C1087.1 796.8 1088.0 804.2 1090.0 810.0 C1092.0 815.8 1094.8 820.6 1098.8 826.0 C1102.7 831.4 1108.5 837.7 1113.8 842.5 C1119.0 847.3 1123.3 850.4 1130.0 855.0 C1136.7 859.6 1144.6 865.4 1153.8 870.0 C1162.9 874.6 1173.5 878.3 1185.0 882.5 C1196.5 886.7 1207.3 890.9 1222.5 895.0 C1237.7 899.1 1260.0 903.9 1276.0 907.0 C1292.0 910.1 1301.9 912.0 1318.4 913.4 C1334.9 914.8 1358.3 915.5 1374.8 915.5 C1391.3 915.5 1403.1 914.7 1417.2 913.4 C1431.3 912.1 1446.4 909.3 1459.6 907.8 C1472.8 906.3 1490.2 904.8 1496.3 904.2"/>
<path d="M1075.5 797.0 C1076.0 800.8 1077.2 814.1 1078.8 820.0 C1080.3 825.9 1081.9 827.5 1085.0 832.5 C1088.1 837.5 1092.3 844.4 1097.5 850.0 C1102.7 855.6 1110.0 861.2 1116.2 866.0 C1122.5 870.8 1128.1 874.8 1135.0 878.8 C1141.9 882.8 1150.2 886.7 1157.5 890.0 C1164.8 893.3 1170.0 895.8 1178.8 898.8 C1187.5 901.7 1198.5 904.8 1210.0 907.5 C1221.5 910.2 1236.5 912.6 1247.5 915.0 C1258.5 917.4 1261.8 919.4 1276.0 921.9 C1290.2 924.4 1313.7 928.3 1332.5 929.7 C1351.3 931.1 1370.2 931.2 1389.0 930.4 C1407.8 929.6 1427.3 926.9 1445.4 924.7 C1463.5 922.5 1489.0 918.3 1497.7 917.0"/>
<path d="M1151.6 781.5 C1157.2 784.6 1174.2 794.4 1185.0 800.0 C1195.8 805.6 1201.1 807.2 1216.2 815.0 C1231.4 822.8 1259.0 837.7 1276.0 847.0 C1293.0 856.3 1307.8 865.6 1318.4 871.0 C1329.0 876.4 1331.3 876.9 1339.5 879.5 C1347.7 882.1 1359.2 885.3 1367.8 886.6 C1376.4 887.9 1387.1 887.2 1391.0 887.3"/>
</g>
<g>
<path d="M1155.0 700.6 C1153.6 702.0 1152.0 705.0 1146.8 709.0 C1141.6 713.0 1132.4 718.0 1123.6 724.8 C1114.8 731.6 1100.9 742.6 1093.9 749.9 C1086.9 757.2 1084.9 761.6 1081.8 768.4 C1078.7 775.2 1076.8 783.8 1075.3 790.7 C1073.8 797.6 1073.0 806.8 1072.5 810.0"/>
<path d="M1072.5 810 L1061.2 879"/>
<path d="M1074.5 815 L1067.9 879"/>
<path d="M1649.6 718.9 C1653.2 722.0 1665.9 731.0 1671.5 737.8 C1677.1 744.6 1681.1 751.1 1683.4 759.7 C1685.7 768.3 1686.1 781.0 1685.4 789.6 C1684.7 798.2 1682.7 804.9 1679.4 811.5 C1676.1 818.1 1672.1 822.8 1665.5 829.4 C1658.9 836.0 1653.2 843.3 1639.6 851.3 C1626.0 859.2 1593.2 872.8 1583.9 877.1"/>
<path d="M1649.6 721.9 C1653.9 725.2 1668.8 734.8 1675.4 741.8 C1682.0 748.8 1685.8 755.7 1689.4 763.7 C1693.1 771.7 1696.3 781.6 1697.3 789.6 C1698.3 797.6 1697.4 804.9 1695.4 811.5 C1693.4 818.1 1689.1 824.4 1685.4 829.4 C1681.8 834.4 1682.8 834.7 1673.5 841.3 C1664.2 847.9 1641.7 861.6 1629.7 869.2 C1617.8 876.8 1606.5 884.1 1601.8 887.1"/>
<path d="M1632.9 707.8 C1636.0 709.5 1644.6 712.9 1651.6 717.9 C1658.6 722.9 1668.6 731.0 1675.0 738.0 C1681.4 745.0 1686.3 753.1 1690.0 760.0 C1693.7 766.9 1696.1 776.3 1697.3 779.6 L1715.3 871.2 L1723.2 883.1 Q1728 900 1725.2 919 Q1722 945 1715.3 958.8 L1709.3 970.7"/>
<path d="M1583.9 877.1 L1601.8 887.1"/>
<path d="M1675.4 841.3 L1663.5 853.3 L1677.4 958.8 L1689.4 966.7 M1677.4 843.3 L1691.4 938.9 M1683.4 857.2 L1701.3 940.9"/>
<ellipse cx="1694.4" cy="945.8" rx="14.5" ry="5.5"/>
<path d="M1680 947 L1681.4 952.8 M1689.4 966.7 L1689.4 988.6 L1711.3 984.6 L1713.3 948.8"/>
<path d="M1680 950 Q1690 958 1700 956 Q1712 954 1713 949"/>
</g>
<g>
<path d="M1151.5 781.8 C1152.3 779.3 1153.5 771.9 1156.5 766.6 C1159.5 761.3 1164.6 755.3 1169.3 750.0 C1174.0 744.7 1176.8 739.8 1184.6 734.7 C1192.4 729.6 1204.7 724.2 1216.4 719.5 C1228.1 714.8 1241.9 710.5 1254.6 706.7 C1267.3 702.9 1275.2 700.0 1292.8 696.5 C1310.4 693.0 1343.5 687.7 1360.0 685.5 C1376.5 683.3 1380.1 683.5 1391.8 683.4 C1403.5 683.3 1414.3 683.7 1430.0 685.1 C1445.7 686.5 1467.1 688.5 1485.7 692.0 C1504.3 695.5 1525.2 700.4 1541.4 706.0 C1557.7 711.6 1571.1 717.4 1583.2 725.5 C1595.3 733.6 1607.5 745.9 1613.8 754.7 C1620.1 763.5 1619.9 771.4 1620.8 778.4 C1621.7 785.4 1621.0 790.9 1619.4 796.5 C1617.8 802.1 1614.0 807.6 1611.0 811.8 C1608.0 816.0 1608.2 816.2 1601.3 821.5 C1594.3 826.8 1578.8 837.8 1569.3 843.8 C1559.8 849.8 1548.4 855.4 1544.2 857.7"/>
<path d="M1544.2 857.7 L1545.6 862 L1560.9 870"/>
<path d="M1157.8 769.1 C1161.6 765.7 1170.9 755.5 1180.7 748.7 C1190.5 741.9 1204.1 733.9 1216.4 728.4 C1228.7 722.9 1241.9 719.6 1254.6 715.6 C1267.3 711.6 1280.1 707.4 1292.8 704.2 C1305.5 701.0 1319.8 698.4 1331.0 696.5 C1342.2 694.6 1343.5 693.5 1360.0 693.0 C1376.5 692.5 1411.4 692.4 1430.0 693.4 C1448.6 694.4 1455.5 696.2 1471.8 699.0 C1488.0 701.8 1508.9 704.3 1527.5 710.1 C1546.1 715.9 1569.3 725.9 1583.2 733.8 C1597.1 741.7 1606.4 753.5 1611.0 757.5"/>
<path d="M1276.3 762.4 C1280.3 759.0 1288.1 748.6 1300.6 742.2 C1313.1 735.8 1332.7 728.6 1351.3 723.9 C1369.9 719.2 1398.9 715.4 1412.0 713.8 C1425.1 712.2 1420.5 713.5 1430.0 714.3 C1439.5 715.1 1450.4 712.2 1469.0 718.5 C1487.6 724.8 1529.3 746.3 1541.4 751.9"/>
<path d="M1265.2 648.0 C1266.0 646.5 1266.1 643.1 1270.3 638.9 C1274.5 634.7 1280.4 627.8 1290.5 622.7 C1300.6 617.6 1317.5 612.5 1331.0 608.5 C1344.5 604.5 1358.0 601.4 1371.5 598.4 C1385.0 595.4 1396.5 591.8 1412.0 590.3 C1427.5 588.8 1455.9 589.7 1464.7 589.6"/>
<path d="M1265.2 648 L1264.2 665.2 M1270.3 638.9 L1272.3 665.2"/>
<path d="M1193.3 690.0 C1202.8 687.2 1233.8 678.1 1250.0 673.3 C1266.2 668.5 1273.6 664.5 1290.5 661.1 C1307.4 657.7 1328.3 654.5 1351.3 653.0 C1374.2 651.5 1415.4 652.2 1428.2 652.0"/>
<path d="M1476.9 661.1 C1486.5 662.3 1521.8 666.5 1534.4 668.4 C1547.0 670.3 1546.7 671.1 1552.5 672.5 C1558.3 673.9 1561.9 673.7 1569.3 676.7 C1576.7 679.7 1586.5 685.4 1597.1 690.6 C1607.7 695.8 1626.9 704.9 1632.9 707.8"/>
<path d="M1534 668 L1552.5 672.5 M1569.3 676.7 L1640 710" stroke-width="5"/>
<path d="M1290 661 L1305 657" stroke-width="5"/>
<path d="M1464.7 589.6 L1452.6 612.5 L1428.2 616.6 Q1418 622 1418.1 628.7 Q1418 636 1432.3 640.9 L1436.3 647 L1430.3 651 L1428.2 657.1 L1476.9 661.1 L1474.8 596.3 Z"/>
<path d="M1473 593 L1442 654 M1457 636 L1447 654 M1457 636 Q1462 650 1468 656"/>
<path d="M1423 628 Q1430 620 1445 617 L1455 614"/>
<ellipse cx="1441.4" cy="632.8" rx="7.5" ry="4" fill="#000" stroke="none"/>
<path d="M1498.1 659.1 L1527.5 607.5 L1537.6 609.5 Q1548 614 1553.8 618.6 Q1562 626 1566 632.8 Q1570 640 1569.6 648 L1570 675.3"/>
<path d="M1528.5 610.5 L1529.5 620.6 L1541.7 624.7 Q1545 628 1543.7 630.8 Q1543 638 1539.7 640.9 L1517.4 647 Q1508 652 1505.2 659.1"/>
<path d="M1530 618 L1544 628"/>
<ellipse cx="1520.4" cy="638.9" rx="7.5" ry="4" fill="#000" stroke="none"/>
<path d="M1556 657 Q1556 649 1562 648 Q1566 650 1566 656 M1566 656 L1559 672 M1562 656 L1563 675"/>
<path d="M1351.3 695.6 L1353.3 714.8 M1359.4 693.6 L1359.4 711.8 L1367.5 709.8 L1368.5 693.6 M1399.9 692.5 L1401.9 711.8 L1412 713.8 M1412 691.5 L1414.1 713.8 M1428.2 693.6 Q1428 705 1414.1 713.8"/>
<path d="M1335 697.6 Q1339 708 1345.2 711.8 Q1352 715 1363.4 714.8"/>
<path d="M1432.3 695.6 Q1436 706 1444.5 711.8 Q1455 717 1468.8 715.8 Q1485 713 1493.1 705.7 L1497.1 701.7"/>
<path d="M1450.5 697.6 Q1460 703 1468.8 703.7 Q1476 703 1480.9 699.6"/>
<path d="M1322.9 717.9 L1335 703.7 L1339.1 711.8 L1327 719.9"/>
<path d="M1276.3 762.4 Q1300 735 1335 699.6"/>
</g>
<path d="M1153.6 708.5 Q1155 719 1174 722.5 Q1192 721 1195.7 710 Q1192 706 1191 707 Q1186 714.5 1174 715 Q1161 714 1157.5 706.5 Z" fill="#000" stroke-width="1.5"/>
<path d="M1159 697 Q1172 702 1190 697" stroke-width="5"/>
<path d="M1622.7 738 Q1625 748 1637.6 749 Q1651 748 1652.6 739 L1649 736.5 Q1645 742.5 1637.6 743 Q1629 742.5 1626 736.5 Z" fill="#000" stroke-width="1.5"/>
<g transform="translate(976,850) scale(0.12963)">
<path vector-effect="non-scaling-stroke" d="M40 430 L190 252 L320 232 L440 262 L470 272"/>
<path vector-effect="non-scaling-stroke" d="M40 430 L465 342 M40 430 L50 600 L90 615 L350 548 L400 540 L402 572"/>
<ellipse cx="270" cy="325" rx="75" ry="35" fill="#000" stroke="none"/>
<path vector-effect="non-scaling-stroke" d="M465 272 L650 236 Q720 250 760 290 L880 390 L950 420 L1100 382 L1160 420 L990 470 L1002 600 L830 650"/>
<path vector-effect="non-scaling-stroke" d="M470 275 L470 405 L520 442 L662 442 L730 372 L690 322 L520 322 L490 336"/>
<path vector-effect="non-scaling-stroke" d="M520 330 L522 440 M662 442 L662 522"/>
<path vector-effect="non-scaling-stroke" d="M672 462 L820 502 L862 532 L990 512"/>
<path vector-effect="non-scaling-stroke" d="M740 185 L840 158 L890 192 L868 335 M760 200 L775 330"/>
<path vector-effect="non-scaling-stroke" d="M332 582 L640 520 L830 590 L1000 600 M372 615 L640 672 L830 598"/>
<ellipse cx="680" cy="605" rx="70" ry="36" fill="#000" stroke="none"/>
<path vector-effect="non-scaling-stroke" d="M372 622 L372 792 L600 832 L760 832 Q820 800 822 655"/>
<path vector-effect="non-scaling-stroke" d="M332 582 L332 730 Q340 830 440 910 L562 970"/>
<path vector-effect="non-scaling-stroke" d="M372 800 Q400 860 560 935"/>
<path vector-effect="non-scaling-stroke" d="M592 842 L602 1320 L650 1340 L982 1250 L982 722 L1012 702 M830 762 Q880 720 990 700"/>
<path vector-effect="non-scaling-stroke" d="M565 850 L572 1320"/>
<path vector-effect="non-scaling-stroke" d="M1002 722 L1002 1250 L1150 1332 L1150 1400"/>
<path vector-effect="non-scaling-stroke" d="M1150 422 L1050 1030 L1200 1092"/>
<path vector-effect="non-scaling-stroke" d="M1382 322 Q1290 700 1236 1062 M1402 342 Q1340 700 1302 1072"/>
<path vector-effect="non-scaling-stroke" d="M1560 392 L1590 762" stroke-width="5"/>
<path vector-effect="non-scaling-stroke" d="M1520 790 L1728 762"/>
<path vector-effect="non-scaling-stroke" d="M1040 1100 L1150 1165" stroke-width="5"/>
<path vector-effect="non-scaling-stroke" d="M1160 1140 Q1200 1090 1300 1078 L1380 1072 M1160 1140 Q1190 1200 1300 1230 Q1420 1240 1520 1215"/>
<path vector-effect="non-scaling-stroke" d="M1295 1150 Q1300 1120 1370 1110 M1295 1150 Q1320 1180 1400 1175"/>
<path vector-effect="non-scaling-stroke" d="M1382 962 Q1420 910 1510 902 Q1620 910 1700 990 L1622 1222 L1400 1172 L1382 962 Z"/>
<path vector-effect="non-scaling-stroke" d="M1392 1012 L1622 1062 L1700 990 M1622 1062 L1622 1222"/>
<ellipse cx="1510" cy="965" rx="72" ry="35" fill="#000" stroke="none"/>
</g>
<g transform="translate(1150,900) scale(0.20255)">
<path vector-effect="non-scaling-stroke" d="M130 240 L250 260 L320 195 L370 210 L372 235 L600 285 L630 262 L690 270 L690 340 L720 362 L720 410 L672 440"/>
<path vector-effect="non-scaling-stroke" d="M620 330 L685 280 M620 330 L690 332"/>
<path vector-effect="non-scaling-stroke" d="M130 240 L115 265 L120 320 L210 342 L235 368"/>
<path vector-effect="non-scaling-stroke" d="M125 295 Q180 305 225 335 L282 345"/>
<path vector-effect="non-scaling-stroke" d="M282 345 Q330 315 400 312 Q460 320 470 360 L470 390 L520 392 L700 372"/>
<path vector-effect="non-scaling-stroke" d="M462 392 L458 445"/>
<path vector-effect="non-scaling-stroke" d="M282 345 L282 470 M240 480 Q300 445 380 440 Q430 445 448 465"/>
<path vector-effect="non-scaling-stroke" d="M450 470 Q470 430 560 425 Q650 430 672 460 Q660 500 560 508 Q470 500 450 470 Z"/>
<ellipse cx="590" cy="462" rx="36" ry="19" fill="#000" stroke="none"/>
<path vector-effect="non-scaling-stroke" d="M450 480 L450 590 Q500 612 560 610 Q640 605 662 590 L662 470"/>
<path vector-effect="non-scaling-stroke" d="M100 610 L275 668 L282 545 M118 578 L275 622 M100 610 L102 705"/>
<path vector-effect="non-scaling-stroke" d="M110 610 L270 650" stroke-width="2"/>
</g>
<path d="M1422.4 977 L1370.8 1013.4 Q1364 1018 1362.7 1021.5 L1345.5 1074.2 L1346.5 1087.4 L1358.6 1089.4 L1361.7 1076.2 L1364.7 1053.9 Q1368 1043 1372.8 1039.8 Q1377 1036 1380.9 1037.7 Q1387 1040 1386 1045.8 Q1385 1055 1382.9 1062 L1372.8 1076.2 L1369.8 1092.4 L1381.9 1095.5 L1409.3 1078.2"/>
<path d="M1422.4 977 L1381.9 1078.2 L1381.9 1095.5 M1422.4 977 L1420.4 1041.8"/>
<path d="M1347.5 1075.2 L1360.7 1073.2 M1354.6 1076.2 L1354.6 1088.4 M1370 1080.3 L1381.9 1080.3 M1374.8 1080.3 L1374.8 1094.4"/>
</g>
</svg>
</body></html>
